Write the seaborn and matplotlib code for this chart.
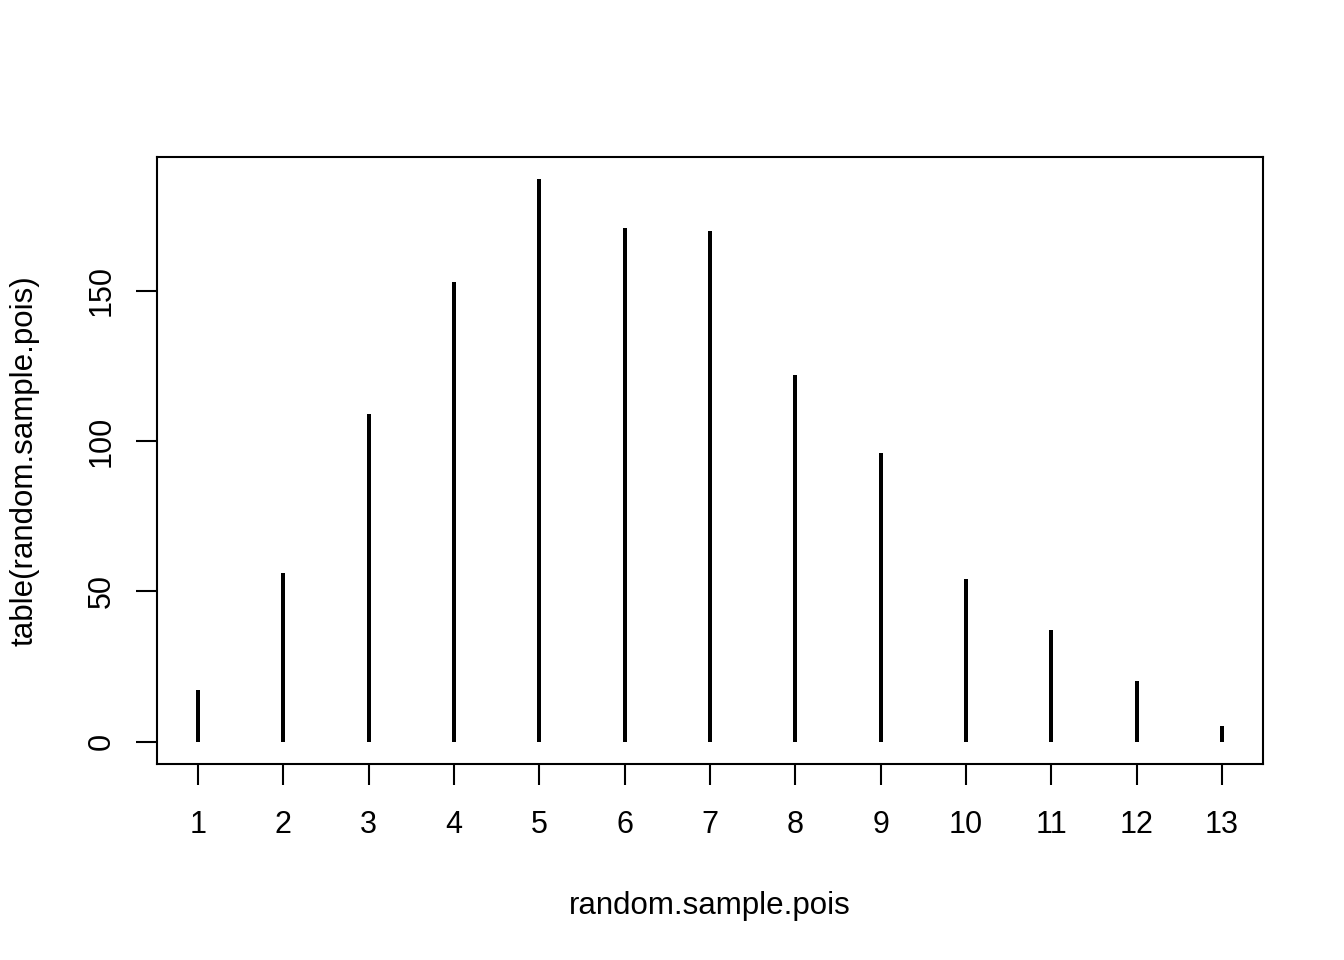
import numpy as np
import pandas as pd
import seaborn as sns
import matplotlib.pyplot as plt

# Frecuencias
valores = [1, 2, 3, 4, 5, 6, 7, 8, 9, 10, 11, 12, 13]
conteos = [17, 56, 109, 153, 187, 171, 170, 122, 96, 54, 37, 20, 5]
yticks = [0, 50, 100, 150]

df = pd.DataFrame({'valor': valores, 'conteo': conteos})

sns.set_style("ticks")
plt.rcParams['font.family'] = ['Liberation Sans', 'DejaVu Sans']

fig = plt.figure(figsize=(13.44, 9.6), dpi=100)
ax = fig.add_axes([157 / 1344, 196 / 960, 1106 / 1344, 607 / 960])

sns.barplot(data=df, x='valor', y='conteo', native_scale=True, width=0.047,
            color='black', linewidth=0, saturation=1, ax=ax)

ax.set_xlim(0.52, 13.48)
ax.set_ylim(-7.48, 194.48)
ax.set_xticks(valores)
ax.set_xticklabels([str(v) for v in valores])
ax.set_yticks(yticks)
ax.set_yticklabels([str(v) for v in yticks], rotation=90, va='center')

for s in ax.spines.values():
    s.set_visible(True)
    s.set_color('black')
    s.set_linewidth(1.5)

ax.tick_params(axis='both', length=15, width=1.5, color='black',
               labelsize=22, labelcolor='black')
ax.tick_params(axis='x', pad=18)
ax.tick_params(axis='y', pad=14)

ax.set_xlabel('random.sample.pois', fontsize=22.5, color='black', labelpad=37)
ax.set_ylabel('table(random.sample.pois)', fontsize=22.5, color='black', labelpad=34)

fig.savefig('out.png', dpi=100)
